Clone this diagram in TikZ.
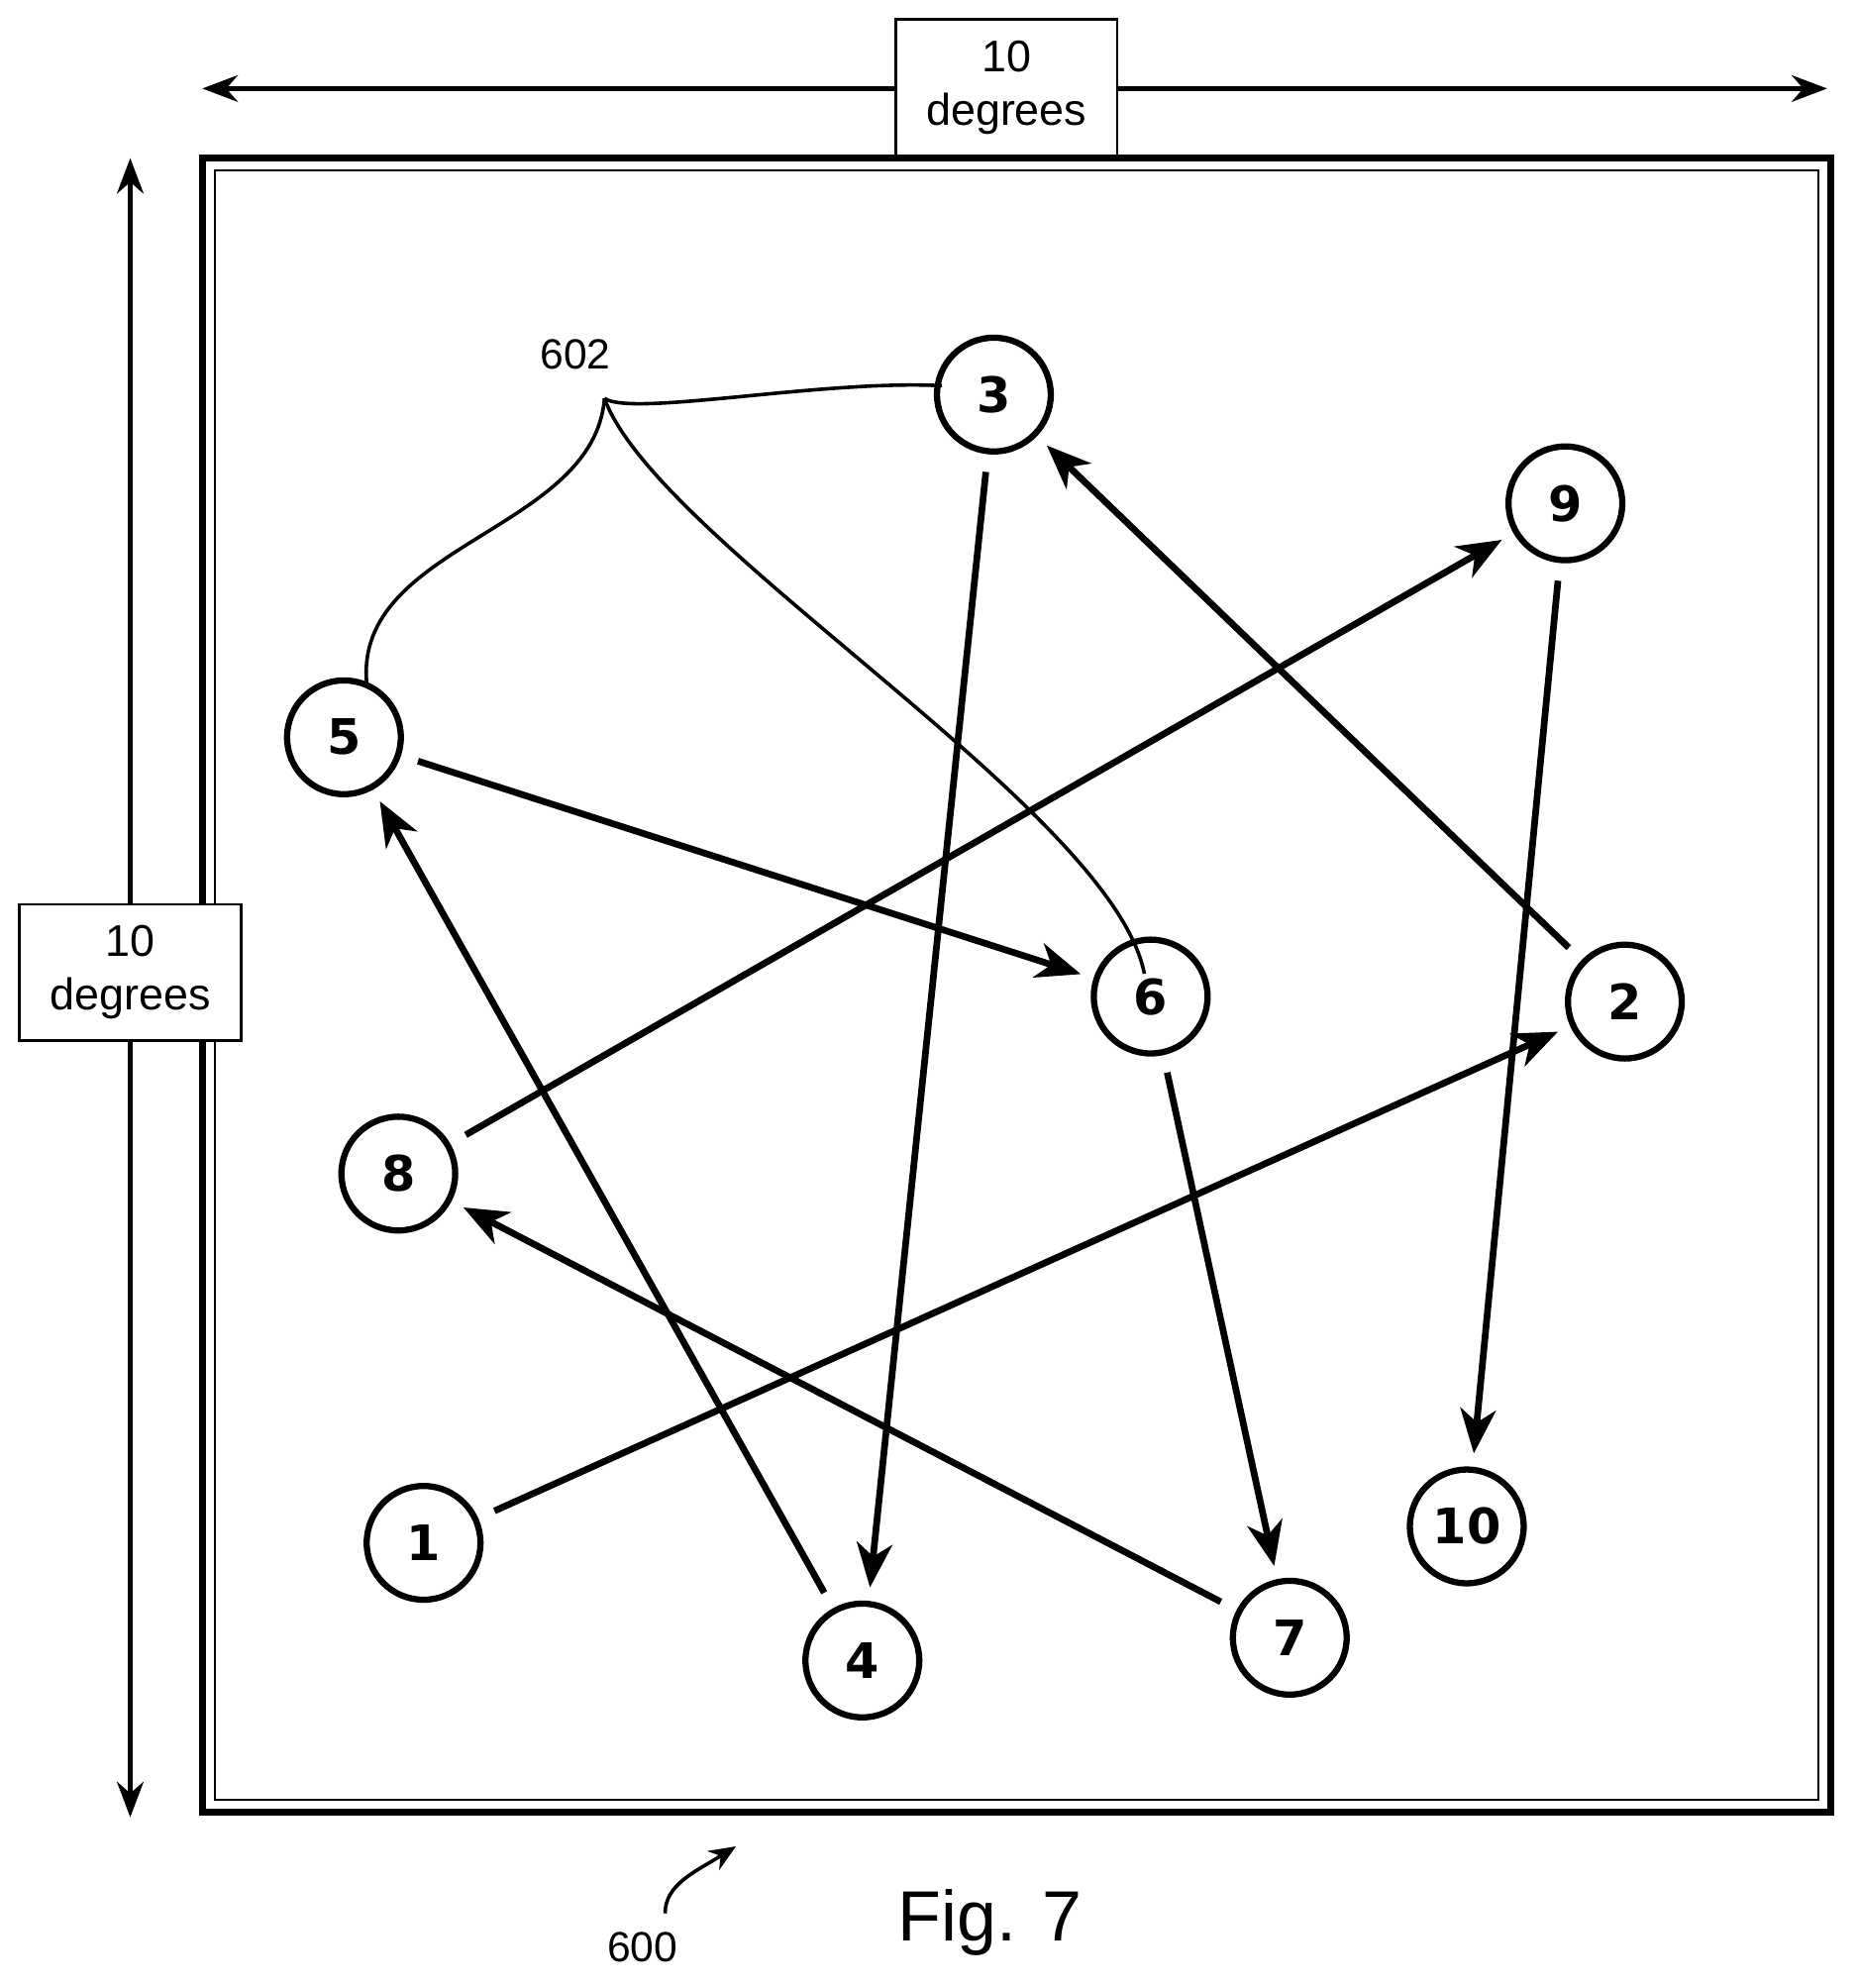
\documentclass[tikz,border=0pt]{standalone}
\usepackage{fontspec}
\setmainfont{Liberation Sans}
\newfontfamily\numfont{DejaVu Sans}
\usetikzlibrary{arrows.meta}

\tikzset{
  st/.style={circle,draw,line width=2.8pt,minimum size=1.8cm,inner sep=0pt,font=\numfont\bfseries\fontsize{22}{24}\selectfont},
  mv/.style={line width=3pt,-{Stealth[length=20pt,width=16pt,inset=6pt]},shorten <=8pt,shorten >=6pt},
  dim/.style={line width=2pt,{Stealth[length=16pt,width=12pt]}-{Stealth[length=16pt,width=12pt]}},
  lbl/.style={draw,line width=1.2pt,fill=white,align=center,font=\fontsize{20}{24}\selectfont,minimum width=3.5cm,minimum height=2.16cm}
}

\begin{document}
\begin{tikzpicture}[x=0.02cm,y=-0.02cm]
\useasboundingbox (0,0) rectangle (1469,1572);

% frame
\draw[line width=3pt] (160,125) rectangle (1448,1433);
\draw[line width=0.8pt] (170,135) rectangle (1438,1423);

% dimensions
\coordinate (tl) at (160,70);
\coordinate (tr) at (1445,70);
\draw[dim] (tl) -- (tr);
\node[lbl] (wide) at (796,69) {10\\degrees};
\coordinate (lt) at (103,125);
\coordinate (lb) at (103,1437);
\draw[dim] (lt) -- (lb);
\node[lbl] (high) at (103,769) {10\\degrees};

% stimuli
\node[st] (n1) at (335,1220) {1};
\node[st] (n2) at (1285,792) {2};
\node[st] (n3) at (786,312) {3};
\node[st] (n4) at (682,1313) {4};
\node[st] (n5) at (272,583) {5};
\node[st] (n6) at (910,788) {6};
\node[st] (n7) at (1020,1295) {7};
\node[st] (n8) at (315,928) {8};
\node[st] (n9) at (1238,398) {9};
\node[st] (n10) at (1160,1207) {10};

\foreach \a/\b in {1/2,2/3,3/4,4/5,5/6,6/7,7/8,8/9,9/10}
  \draw[mv] (n\a) -- (n\b);

% reference 602
\node[font=\fontsize{19}{22}\selectfont] (r602) at (455,280) {602};
\coordinate (fork) at (478,315);
\draw[line width=1.6pt] (fork) .. controls (500,330) and (650,300) .. (745,305);
\draw[line width=1.6pt] (fork) .. controls (470,420) and (280,430) .. (290,540);
\draw[line width=1.6pt] (fork) .. controls (520,430) and (880,640) .. (905,770);

% reference 600
\node[font=\fontsize{19}{22}\selectfont] (r600) at (508,1540) {600};
\coordinate (p600) at (582,1460);
\draw[line width=1.6pt,-{Stealth[length=12pt,width=10pt]}] (526,1513) .. controls (526,1490) and (550,1480) .. (p600);

\node[font=\fontsize{32}{36}\selectfont] (fig) at (783,1520) {Fig. 7};
\end{tikzpicture}
\end{document}
